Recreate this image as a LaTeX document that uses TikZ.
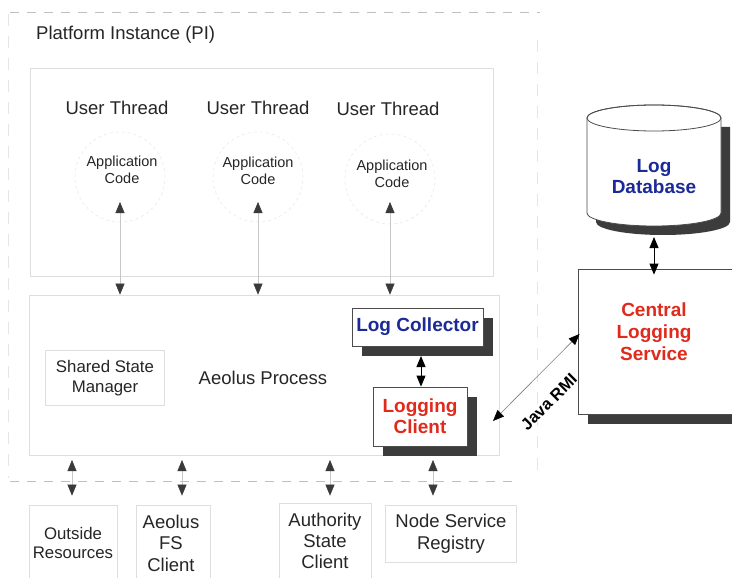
\documentclass[tikz,border=0pt]{standalone}
\usepackage{fontspec}
\setmainfont{Liberation Sans}
\usetikzlibrary{arrows.meta,shadows,calc}
\definecolor{lblue}{HTML}{1B2A96}
\definecolor{lred}{HTML}{E02A1C}
\definecolor{faint}{HTML}{DEDEDE}
\definecolor{fainter}{HTML}{EAEAEA}
\definecolor{shad}{HTML}{3C3C3C}
\definecolor{tipc}{HTML}{3A3A3A}
\tikzset{
  faintbox/.style={draw=faint, line width=0.7pt, inner sep=0pt},
  appcirc/.style={circle, draw=fainter, dashed, line width=0.6pt, minimum size=90pt, inner sep=0pt},
  bigtxt/.style={font=\fontsize{18.5}{22}\selectfont, text=black!85, align=center, inner sep=0pt},
  midtxt/.style={font=\fontsize{16.8}{19.5}\selectfont, text=black!85, align=center, inner sep=0pt},
  smltxt/.style={font=\fontsize{14.5}{17.5}\selectfont, text=black!85, align=center, inner sep=0pt},
  shbox/.style={draw=black!70, line width=0.8pt, fill=white, inner sep=0pt, align=center,
     font=\fontsize{19}{21}\selectfont\bfseries,
     drop shadow={shadow xshift=10pt, shadow yshift=-10pt, fill=shad, opacity=1}},
  faintarrow/.style={draw=black!22, line width=0.5pt,
     {Triangle[length=11pt,width=9pt,color=tipc]}-{Triangle[length=11pt,width=9pt,color=tipc]}},
  darkarrow/.style={draw=black, line width=0.9pt,
     {Triangle[length=11pt,width=9pt]}-{Triangle[length=11pt,width=9pt]}},
  sep/.style={draw=black!25, line width=0.6pt, dash pattern=on 9pt off 8pt}
}
\begin{document}
\begin{tikzpicture}[x=1pt,y=-1pt]
\useasboundingbox (0,0) rectangle (732,578);
\fill[white] (0,0) rectangle (732,578);

% PI region boundaries
\path[sep] (10,12) -- (540,12);
\path[sep] (10,481) -- (520,481);
\path[draw=black!10, line width=0.6pt, dash pattern=on 12pt off 10pt] (8,14) -- (8,478);
\path[draw=black!10, line width=0.6pt, dash pattern=on 12pt off 10pt] (537,40) -- (537,470);

\node[bigtxt, anchor=west] (pi) at (36,35) {Platform Instance (PI)};

% user thread area
\node[faintbox, minimum width=463, minimum height=208] (ut) at (261.5,172) {};
\node[bigtxt] (t1) at (117,108) {User Thread};
\node[bigtxt] (t2) at (258,108) {User Thread};
\node[bigtxt] (t3) at (388,109) {User Thread};

\node[appcirc] (c1) at (120,177) {};
\node[appcirc] (c2) at (258,177) {};
\node[appcirc] (c3) at (390,179) {};
\node[smltxt] (a1) at (122,170) {Application\\Code};
\node[smltxt] (a2) at (258,171) {Application\\Code};
\node[smltxt] (a3) at (392,174) {Application\\Code};

% aeolus process area
\node[faintbox, minimum width=470, minimum height=160] (ap) at (264,375) {};
\node[faintbox, minimum width=119, minimum height=55] (ssm) at (104.5,377.5) {};
\node[midtxt] (ssmt) at (105,378) {Shared State\\Manager};
\node[bigtxt] (apt) at (263,378) {Aeolus Process};

\coordinate (u1) at (120,202);
\coordinate (u2) at (258,202);
\coordinate (u3) at (390,202);
\draw[faintarrow] (u1) -- (u1 |- ap.north);
\draw[faintarrow] (u2) -- (u2 |- ap.north);
\draw[faintarrow] (u3) -- (u3 |- ap.north);

% logging nodes
\node[shbox, text=lblue, minimum width=131, minimum height=38] (lc) at (417.5,327) {Log Collector};
\node[shbox, text=lred, minimum width=94, minimum height=59] (lcl) at (420,416.5) {Logging\\Client};
\coordinate (lcx) at (421,356);
\draw[darkarrow] (lcx) -- (lcx |- lcl.north);

% central logging service
\node[shbox, minimum width=170, minimum height=145] (cls) at (663,341.5) {};
\node[font=\fontsize{19}{22}\selectfont\bfseries, text=lred, align=center] (clst) at (654,332) {Central\\Logging\\Service};

% log database cylinder
\fill[shad] (596,127) -- (596,222) arc[start angle=180,end angle=360,x radius=67,y radius=-13] -- (730,127) -- cycle;
\draw[black!70, line width=0.8pt, fill=white] (587,118) -- (587,213) arc[start angle=180,end angle=360,x radius=67,y radius=-13] -- (721,118) arc[start angle=0,end angle=180,x radius=67,y radius=-13] -- cycle;
\draw[black!70, line width=0.8pt] (654,118) ellipse[x radius=67, y radius=13];
\node[font=\fontsize{19}{21}\selectfont\bfseries, text=lblue, align=center] (db) at (654,176.5) {Log\\Database};
\coordinate (dbb) at (654,237);
\draw[darkarrow, shorten >=-6pt] (dbb) -- (dbb |- cls.north);

% Java RMI
\coordinate (jr) at (493,421);
\draw[draw=black!50, line width=0.6pt, {Triangle[length=11pt,width=9pt,color=black]}-{Triangle[length=11pt,width=9pt,color=black]}] (jr) -- ($(cls.west)+(2,-7.5)$);
\node[font=\fontsize{16.5}{18}\selectfont\bfseries, rotate=45] (rmi) at (549,402) {Java RMI};

% bottom boxes
\node[faintbox, minimum width=88, minimum height=75] (ors) at (73,542.5) {};
\node[faintbox, minimum width=74, minimum height=75] (fs) at (173,542.5) {};
\node[faintbox, minimum width=92, minimum height=77] (auth) at (325,541.5) {};
\node[faintbox, minimum width=131, minimum height=57] (nsr) at (450.5,533.5) {};
\node[midtxt] (orst) at (73,543) {Outside\\Resources};
\node[bigtxt, font=\fontsize{18.5}{21.5}\selectfont] (fst) at (171,543) {Aeolus\\FS\\Client};
\node[bigtxt, font=\fontsize{18.5}{21}\selectfont] (autht) at (325,541) {Authority\\State\\Client};
\node[bigtxt, font=\fontsize{18.5}{22}\selectfont] (nsrt) at (451,534) {Node Service\\Registry};

\coordinate (b1) at (72,460);
\coordinate (b2) at (182,460);
\coordinate (b3) at (330,460);
\coordinate (b4) at (433,460);
\draw[faintarrow, shorten >=9pt] (b1) -- (b1 |- ors.north);
\draw[faintarrow, shorten >=9pt] (b2) -- (b2 |- fs.north);
\draw[faintarrow, shorten >=7pt] (b3) -- (b3 |- auth.north);
\draw[faintarrow, shorten >=9pt] (b4) -- (b4 |- nsr.north);
\end{tikzpicture}
\end{document}
